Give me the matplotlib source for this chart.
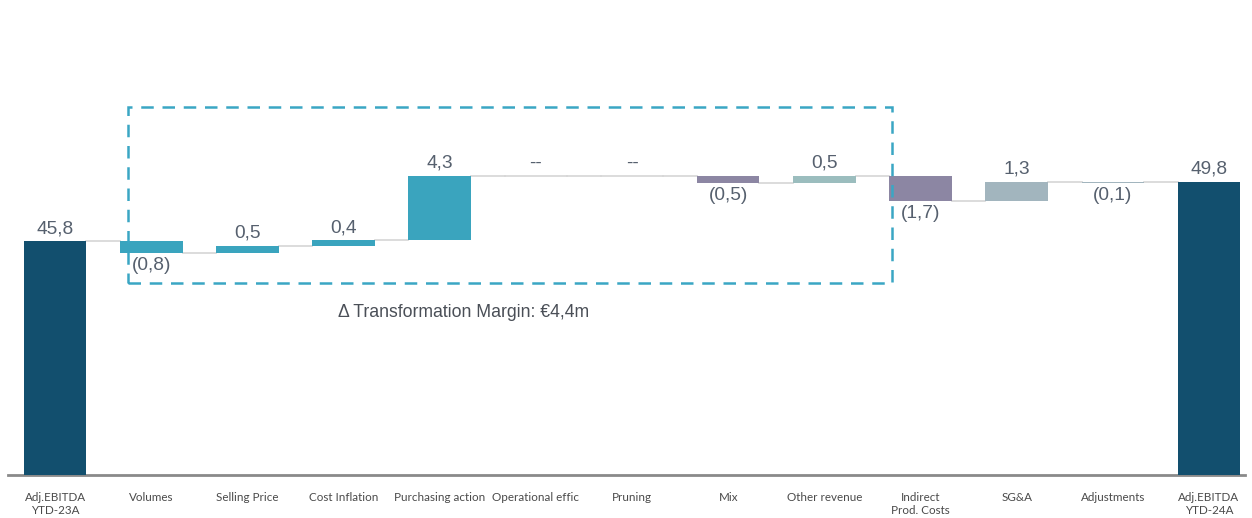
import matplotlib
matplotlib.use("Agg")
import matplotlib.pyplot as plt
from matplotlib.patches import Rectangle

categories = ["Adj.EBITDA\nYTD-23A", "Volumes", "Selling Price", "Cost Inflation",
              "Purchasing action", "Operational effic", "Pruning", "Mix",
              "Other revenue", "Indirect\nProd. Costs", "SG&A", "Adjustments",
              "Adj.EBITDA\nYTD-24A"]
start_total = 45.8
deltas = [-0.8, 0.5, 0.4, 4.3, 0.0, 0.0, -0.5, 0.5, -1.7, 1.3, -0.1]
end_total = 49.8
value_labels = ["45,8", "(0,8)", "0,5", "0,4", "4,3", "--", "--", "(0,5)", "0,5",
                "(1,7)", "1,3", "(0,1)", "49,8"]
bar_colors = ["#124F6E", "#3AA4BE", "#3AA4BE", "#3AA4BE", "#3AA4BE", "#3AA4BE",
              "#3AA4BE", "#8C86A3", "#9BBDBE", "#8C86A3", "#A2B5BE", "#A2B5BE",
              "#124F6E"]
box_note = "\u0394 Transformation Margin: \u20ac4,4m"

ybase = 30.1
fig = plt.figure(figsize=(12.52, 5.18), dpi=100)
ax = fig.add_axes([0.0064, 0.083, 0.988, 0.917])
ax.set_xlim(-0.49, 12.375)
ax.set_ylim(ybase, 62.0)

w = 0.65
label_col = "#56606E"
conn_col = "#D5D5D5"
vfs = 13.8

ax.bar(0, start_total - ybase, bottom=ybase, width=w, color=bar_colors[0], zorder=3)
ax.text(0, start_total + 0.25, value_labels[0], ha="center", va="bottom",
        fontsize=vfs, color=label_col, family="Liberation Sans")
cur = start_total
for i, d in enumerate(deltas, start=1):
    lo, hi = min(cur, cur + d), max(cur, cur + d)
    ax.plot([i - 1 + w / 2, i - w / 2], [cur, cur], color=conn_col, lw=1.2, zorder=2)
    if d == 0:
        ax.plot([i - w / 2, i + w / 2], [cur, cur], color=conn_col, lw=1.2, zorder=2)
    else:
        ax.bar(i, hi - lo, bottom=lo, width=w, color=bar_colors[i], zorder=3)
    if d >= 0:
        ax.text(i, hi + 0.25, value_labels[i], ha="center", va="bottom",
                fontsize=vfs, color=label_col, family="Liberation Sans")
    else:
        ax.text(i, lo - 0.25, value_labels[i], ha="center", va="top",
                fontsize=vfs, color=label_col, family="Liberation Sans")
    cur = cur + d
n = len(categories) - 1
ax.plot([n - 1 + w / 2, n - w / 2], [end_total, end_total], color=conn_col, lw=1.2, zorder=2)
ax.bar(n, end_total - ybase, bottom=ybase, width=w, color=bar_colors[n], zorder=3)
ax.text(n, end_total + 0.25, value_labels[n], ha="center", va="bottom",
        fontsize=vfs, color=label_col, family="Liberation Sans")

box = Rectangle((0.76, 43.0), 8.70 - 0.76, 54.8 - 43.0, fill=False,
                edgecolor="#3AA6C4", lw=1.8, linestyle=(0, (5, 3.5)), zorder=4)
ax.add_patch(box)
ax.text(4.25, 41.0, box_note, ha="center", va="center", fontsize=12.7,
        color="#4A4F57", family="Liberation Sans")

for s in ["top", "right", "left"]:
    ax.spines[s].set_visible(False)
ax.spines["bottom"].set_color("#8A8A8A")
ax.spines["bottom"].set_linewidth(2)
ax.set_yticks([])
ax.set_xticks(range(len(categories)))
ax.set_xticklabels(categories, fontsize=8.4, color="#4A4A4A", family="Lato",
                   linespacing=1.3)
ax.tick_params(axis="x", length=0, pad=12)

fig.savefig("out.png", dpi=100)
